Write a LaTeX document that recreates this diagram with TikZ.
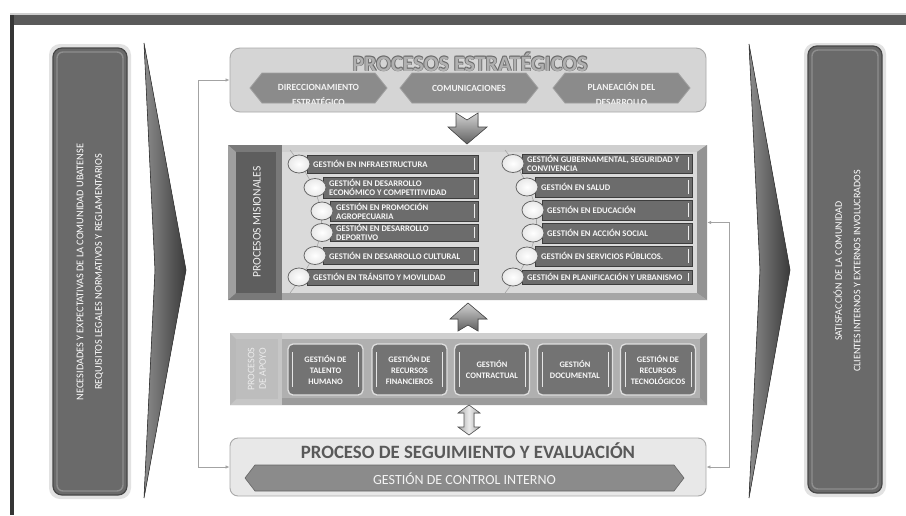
\documentclass[tikz,border=0pt]{standalone}
\usepackage{fontspec}
\setmainfont{Carlito}
\usetikzlibrary{arrows.meta,shapes.geometric}
\definecolor{bandgray}{HTML}{5A5A5A}
\definecolor{bandlight}{HTML}{CFCFCF}
\definecolor{framedark}{HTML}{353535}
\definecolor{sidefill}{HTML}{6A6A6A}
\definecolor{sideedge}{HTML}{474747}
\definecolor{sideinner}{HTML}{8E8E8E}
\definecolor{glowgray}{HTML}{E2E2E2}
\definecolor{chevlight}{HTML}{8C8C8C}
\definecolor{chevdark}{HTML}{3A3A3A}
\definecolor{topfill}{HTML}{D5D5D5}
\definecolor{topedge}{HTML}{A9A9A9}
\definecolor{titlelight}{HTML}{B0B0B0}
\definecolor{titledark}{HTML}{6A6A6A}
\definecolor{hexfillc}{HTML}{8B8B8B}
\definecolor{hexedge}{HTML}{A0A0A0}
\definecolor{hextextc}{HTML}{F3F3F3}
\definecolor{barfill}{HTML}{6C6C6C}
\definecolor{baredge}{HTML}{3D3D3D}
\definecolor{misinnerc}{HTML}{DADADA}
\definecolor{panelc}{HTML}{5E5E5E}
\definecolor{segfillc}{HTML}{E8E8E8}
\definecolor{segtitlec}{HTML}{595959}
\definecolor{fbgray}{HTML}{A3A3A3}

\newcommand\HexFill[6]{%
  \filldraw[#6] (#1,#3) -- ({#1+#5},{#3-#4}) -- ({#2-#5},{#3-#4}) -- (#2,#3) -- ({#2-#5},{#3+#4}) -- ({#1+#5},{#3+#4}) -- cycle;}
\newcommand\HexClip[5]{%
  \clip (#1,#3) -- ({#1+#5},{#3-#4}) -- ({#2-#5},{#3-#4}) -- (#2,#3) -- ({#2-#5},{#3+#4}) -- ({#1+#5},{#3+#4}) -- cycle;}
\newcommand\MisBar[7]{%
  \draw[misbar] (#2,#3) rectangle (#4,#5);
  \draw[mistick] ({#4-4},{#3+3}) -- ({#4-4},{#5-3});
  \node[misdot] (#1c) at (#6,{(#3+#5)/2}) {};
  \node[mistext] (#1) at ({#6+14},{(#3+#5)/2}) {#7};}
\newcommand\ApBtn[3]{%
  \node[apbtn] (#1) at (#2,369.5) {#3};
  \draw[aptick] ({#2-33},352) -- ({#2-33},387);
  \draw[aptick] ({#2+33},352) -- ({#2+33},387);}

\begin{document}
\begin{tikzpicture}[x=1pt,y=-1pt,
  fbline/.style={draw=fbgray, line width=0.8pt, {Latex[length=4pt,width=3.5pt]}-{Latex[length=4pt,width=3.5pt]}},
  sidebox/.style={draw=sideedge, line width=1.2pt, fill=sidefill, rounded corners=9pt, inner sep=0pt},
  sidetext/.style={text=white, align=center, font=\fontsize{10.3}{18.5}\selectfont, inner sep=0pt},
  chevron/.style={left color=chevlight, right color=chevdark, draw=chevdark, line width=0.6pt},
  topbox/.style={fill=topfill, draw=topedge, line width=0.9pt, rounded corners=10pt, inner sep=0pt},
  hexst/.style={fill=hexfillc, draw=hexedge, line width=0.8pt},
  hextext/.style={text=hextextc, align=center, font=\fontsize{9.4}{15}\selectfont\bfseries, inner sep=0pt},
  misbar/.style={fill=barfill, draw=baredge, line width=0.7pt},
  mistick/.style={draw=white!85!gray, line width=0.9pt},
  misdot/.style={ellipse, minimum width=22pt, minimum height=18pt, inner sep=0pt, draw=gray!80!black, line width=0.8pt, inner color=white, outer color=gray!18},
  mistext/.style={anchor=west, align=left, text=white!94!gray, font=\fontsize{8.6}{9}\selectfont\bfseries, inner sep=0pt},
  arcline/.style={draw=gray!70, line width=0.6pt},
  apbtn/.style={fill=barfill!95!white, draw=white!75!gray, line width=1.3pt, rounded corners=5pt, minimum width=75pt, minimum height=51pt, inner sep=0pt, text=white!95!gray, align=center, font=\fontsize{8.4}{11}\selectfont\bfseries},
  aptick/.style={draw=white!80!gray, line width=0.8pt},
  blockarrow/.style={top color=gray!35, bottom color=gray!75!black, draw=gray!60!black, line width=0.6pt},
]
\useasboundingbox (0,0) rectangle (906,515);
\fill[white] (0,0) rectangle (906,515);

% frame
\fill[bandlight] (10,12.5) rectangle (906,15);
\fill[bandgray] (10,15) rectangle (906,25);
\fill[framedark] (10,15) rectangle (13.5,515);

% left box
\fill[glowgray, rounded corners=11pt] (49,44) rectangle (131,499);
\node[sidebox, minimum width=74pt, minimum height=447pt] (needs) at (90,271.5) {};
\draw[sideinner, line width=1.4pt, rounded corners=6pt] (57,52) rectangle (123,491);
\fill[sidefill] (60,55) rectangle (120,488);
\node[sidetext, rotate=90] (needsT) at (90,272) {NECESIDADES Y EXPECTATIVAS DE LA COMUNIDAD UBATENSE\\REQUISITOS LEGALES NORMATIVOS Y REGLAMENTARIOS};

% right box
\fill[glowgray, rounded corners=11pt] (804,43) rectangle (886,497);
\node[sidebox, minimum width=74pt, minimum height=447pt] (satis) at (845,269.5) {};
\draw[sideinner, line width=1.4pt, rounded corners=6pt] (812,50) rectangle (878,489);
\fill[sidefill] (815,53) rectangle (875,486);
\node[sidetext, rotate=90, font=\fontsize{10}{18.5}\selectfont] (satisT) at (847,271) {SATISFACCIÓN DE LA COMUNIDAD\\CLIENTES INTERNOS Y EXTERNOS INVOLUCRADOS};

% chevrons
\filldraw[chevron] (144,43) -- (186,270) -- (144,498) -- (155,270) -- cycle;
\filldraw[chevron] (749,44) -- (790,270) -- (749,498) -- (760,270) -- cycle;

% top box: procesos estrategicos
\node[topbox, minimum width=476pt, minimum height=64pt] (estr) at (468,80) {};
\node[font=\fontsize{22}{22}\selectfont\bfseries, text=titledark] (estrTa) at (470.6,62.6) {PROCESOS ESTRATÉGICOS};
\node[font=\fontsize{22}{22}\selectfont\bfseries, text=titledark] (estrTb) at (469.4,61.4) {PROCESOS ESTRATÉGICOS};
\node[font=\fontsize{22}{22}\selectfont\bfseries, text=titledark] (estrTc) at (470.6,61.4) {PROCESOS ESTRATÉGICOS};
\node[font=\fontsize{22}{22}\selectfont\bfseries, text=titledark] (estrTd) at (469.4,62.6) {PROCESOS ESTRATÉGICOS};
\node[font=\fontsize{22}{22}\selectfont\bfseries, text=titlelight] (estrT) at (470,62) {PROCESOS ESTRATÉGICOS};

\HexFill{250}{387}{88}{15}{12}{hexst}
\HexFill{400}{538}{88}{15}{12}{hexst}
\HexFill{553}{690}{88}{15}{12}{hexst}
\begin{scope}
\HexClip{250}{387}{88}{15}{12}
\node[hextext] (hx1) at (318.5,94.5) {DIRECCIONAMIENTO\\ESTRATÉGICO};
\end{scope}
\node[hextext] (hx2) at (469,88.5) {COMUNICACIONES};
\begin{scope}
\HexClip{553}{690}{88}{15}{12}
\node[hextext] (hx3) at (621.5,94.5) {PLANEACIÓN DEL\\DESARROLLO};
\end{scope}

% down arrow
\filldraw[blockarrow] (456,113) -- (467,120) -- (478,113) -- (478,127) -- (487,127) -- (467,144) -- (448,127) -- (456,127) -- cycle;

% misionales box
\node[fill=gray!60, inner sep=0pt, minimum width=479pt, minimum height=155pt] (mis) at (467.5,222.5) {};
\fill[gray!38] (228,145) -- (707,145) -- (697,152) -- (282,152) -- cycle;
\fill[gray!85] (707,145) -- (707,300) -- (697,293) -- (697,152) -- cycle;
\fill[gray!70] (282,293) -- (697,293) -- (707,300) -- (228,300) -- cycle;
\fill[misinnerc] (282,152) rectangle (697,293);
\fill[gray!95!black] (228,145) -- (282,145) -- (282,300) -- (228,300) -- cycle;
\fill[gray!75] (228,145) -- (236,152) -- (236,293) -- (228,300) -- cycle;
\fill[panelc] (236,152) rectangle (276,293);
\node[text=white!88!gray, font=\fontsize{11.6}{12}\selectfont, rotate=90, inner sep=0pt] (misT) at (257,222) {PROCESOS MISIONALES};

\draw[arcline] (290,150) .. controls (332,205) and (332,238) .. (290,293);
\draw[arcline] (505,150) .. controls (547,205) and (547,238) .. (505,293);

\MisBar{m1}{307}{155}{478}{173}{299}{GESTIÓN EN INFRAESTRUCTURA}
\MisBar{m2}{323}{177}{478}{198}{315}{GESTIÓN EN DESARROLLO\\ECONÓMICO Y COMPETITIVIDAD}
\MisBar{m3}{330}{201}{478}{221}{322}{GESTIÓN EN PROMOCIÓN\\AGROPECUARIA}
\MisBar{m4}{330}{224}{478}{241}{322}{GESTIÓN EN DESARROLLO\\DEPORTIVO}
\MisBar{m5}{323}{247}{478}{264}{315}{GESTIÓN EN DESARROLLO CULTURAL}
\MisBar{m6}{307}{269}{478}{285}{299}{GESTIÓN EN TRÁNSITO Y MOVILIDAD}
\MisBar{m7}{522}{154}{692}{173}{513}{GESTIÓN GUBERNAMENTAL, SEGURIDAD Y\\CONVIVENCIA}
\MisBar{m8}{535}{177}{692}{197}{527}{GESTIÓN EN SALUD}
\MisBar{m9}{542}{200}{692}{220}{533}{GESTIÓN EN EDUCACIÓN}
\MisBar{m10}{542}{223}{692}{243}{533}{GESTIÓN EN ACCIÓN SOCIAL}
\MisBar{m11}{535}{246}{692}{266}{527}{GESTIÓN EN SERVICIOS PÚBLICOS.}
\MisBar{m12}{522}{270}{692}{284}{513}{GESTIÓN EN PLANIFICACIÓN Y URBANISMO}

% up arrow
\filldraw[blockarrow] (468,303) -- (487,319) -- (478,319) -- (478,331) -- (468,325) -- (458,331) -- (458,319) -- (450,319) -- cycle;

% apoyo box
\node[fill=gray!65, inner sep=0pt, minimum width=477pt, minimum height=72pt] (apo) at (468.5,369) {};
\fill[gray!38] (230,333) -- (707,333) -- (700,339) -- (282,339) -- cycle;
\fill[gray!85] (707,333) -- (707,405) -- (700,398) -- (700,339) -- cycle;
\fill[gray!78] (282,398) -- (700,398) -- (707,405) -- (230,405) -- cycle;
\fill[gray!62] (282,339) rectangle (700,398);
\fill[gray!45] (230,333) -- (282,333) -- (282,405) -- (230,405) -- cycle;
\fill[gray!55] (230,333) -- (236,339) -- (236,399) -- (230,405) -- cycle;
\fill[gray!52] (236,339) rectangle (278,399);
\node[text=white!85!gray, align=center, font=\fontsize{10}{11.5}\selectfont, rotate=90, inner sep=0pt] (apoT) at (257,369) {PROCESOS\\DE APOYO};

\ApBtn{ap1}{325.5}{GESTIÓN DE\\TALENTO\\HUMANO}
\ApBtn{ap2}{409.5}{GESTIÓN DE\\RECURSOS\\FINANCIEROS}
\ApBtn{ap3}{492}{GESTIÓN\\CONTRACTUAL}
\ApBtn{ap4}{575}{GESTIÓN\\DOCUMENTAL}
\ApBtn{ap5}{658}{GESTIÓN DE\\RECURSOS\\TECNOLÓGICOS}

% double arrow
\filldraw[left color=gray!70, right color=gray!70, middle color=gray!15, draw=gray!70!black, line width=0.6pt] (469,405) -- (480,413) -- (474,413) -- (474,427) -- (480,427) -- (469,435) -- (458,427) -- (464,427) -- (464,413) -- (458,413) -- cycle;

% seguimiento box
\node[fill=segfillc, draw=topedge, line width=0.9pt, rounded corners=8pt, inner sep=0pt, minimum width=476pt, minimum height=58pt] (seg) at (468,467) {};
\node[text=segtitlec, font=\fontsize{18.8}{19}\selectfont\bfseries, inner sep=0pt] (segT) at (468,451) {PROCESO DE SEGUIMIENTO Y EVALUACIÓN};
\HexFill{245}{684}{478}{13}{10}{fill=hexfillc, draw=gray!80!black, line width=0.6pt}
\node[text=white!90!gray, font=\fontsize{14}{14}\selectfont, inner sep=0pt] (ctrl) at (464.5,479) {GESTIÓN DE CONTROL INTERNO};

% feedback connectors
\coordinate (fl1) at (198,80);
\coordinate (fl2) at (198,467);
\coordinate (fr1) at (729,222.5);
\coordinate (fr2) at (729,467);
\draw[fbline] (estr.west) -- (fl1) -- (fl2) -- (seg.west);
\draw[fbline] (mis.east) -- (fr1) -- (fr2) -- (seg.east);
\end{tikzpicture}
\end{document}
